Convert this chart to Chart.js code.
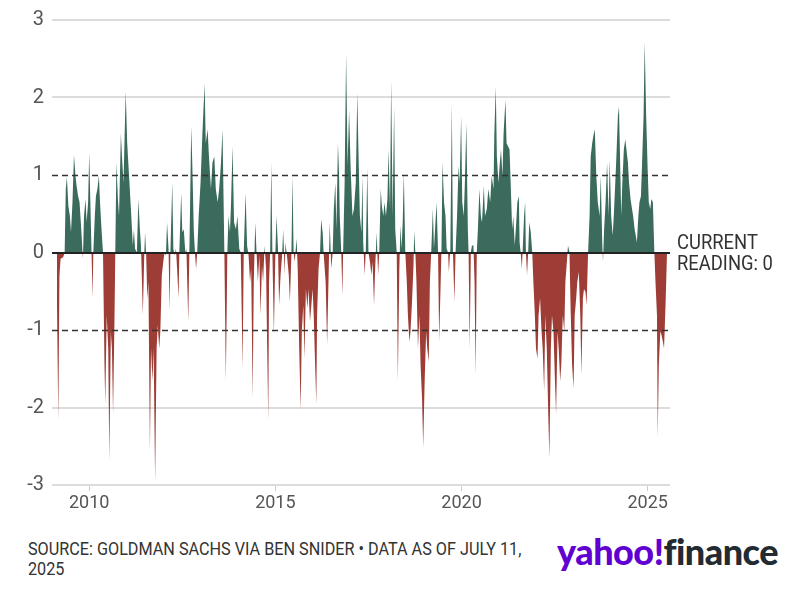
<!DOCTYPE html>
<html>
<head>
<meta charset="utf-8">
<script src="https://cdn.jsdelivr.net/npm/chart.js@4"></script>
<style>
  body { margin: 0; background: #fff; }
  #wrap { position: relative; width: 788px; height: 599px; overflow: hidden; font-family: Roboto, sans-serif; }
  #chartBox { position: absolute; left: 0; top: 0; width: 788px; height: 522px; }
  #current { position: absolute; left: 677px; top: 232px; font-size: 20px; line-height: 21px; color: #333; white-space: nowrap; transform: scaleX(0.92); transform-origin: left top; }
  #source { position: absolute; left: 28px; top: 539px; font-size: 18px; line-height: 20px; color: #333; white-space: nowrap; transform: scaleX(0.9); transform-origin: left top; }
  #logo { position: absolute; left: 557px; top: 533px; font-family: Lato, Roboto, sans-serif; font-weight: 900; font-size: 36px; line-height: 36px; letter-spacing: -0.5px; white-space: nowrap; }
  #logo .y { color: #6001d2; }
  #logo .f { color: #232a31; }
</style>
</head>
<body>
<div id="wrap">
  <div id="chartBox"><canvas id="sentimentChart"></canvas></div>
  <div id="current">CURRENT<br>READING: 0</div>
  <div id="source">SOURCE: GOLDMAN SACHS VIA BEN SNIDER • DATA AS OF JULY 11,<br>2025</div>
  <div id="logo"><span class="y">yahoo!</span><span class="f">finance</span></div>
</div>
<script>
// readings (decimal year) and indicator values
const years = [
  2009.13, 2009.17, 2009.20, 2009.23, 2009.30, 2009.34, 2009.37, 2009.40, 2009.44, 2009.48,
  2009.51, 2009.55, 2009.59, 2009.63, 2009.66, 2009.70, 2009.74, 2009.79, 2009.83, 2009.86,
  2009.90, 2009.93, 2009.97, 2010.00, 2010.03, 2010.06, 2010.09, 2010.11, 2010.15, 2010.18,
  2010.22, 2010.26, 2010.29, 2010.33, 2010.37, 2010.41, 2010.43, 2010.47, 2010.51, 2010.54,
  2010.58, 2010.61, 2010.64, 2010.68, 2010.70, 2010.73, 2010.77, 2010.80, 2010.85, 2010.88,
  2010.92, 2010.98, 2011.02,
  2011.08, 2011.13, 2011.17, 2011.20, 2011.23, 2011.28, 2011.32, 2011.36, 2011.39, 2011.44,
  2011.48, 2011.50, 2011.53, 2011.56, 2011.59, 2011.63, 2011.66, 2011.70, 2011.73, 2011.77,
  2011.81, 2011.84, 2011.88, 2011.91, 2011.95, 2011.99, 2012.02, 2012.06, 2012.09, 2012.13,
  2012.16, 2012.18, 2012.23, 2012.26, 2012.29, 2012.33, 2012.36, 2012.40, 2012.42, 2012.47,
  2012.50, 2012.54, 2012.58, 2012.61, 2012.66, 2012.69, 2012.74, 2012.77, 2012.81, 2012.85,
  2012.87, 2012.90, 2012.94, 2012.99, 2013.04, 2013.10,
  2013.13, 2013.18, 2013.22, 2013.27, 2013.31, 2013.36, 2013.40, 2013.45, 2013.49, 2013.54,
  2013.58, 2013.63, 2013.67, 2013.71, 2013.74, 2013.78, 2013.81, 2013.85, 2013.89, 2013.94,
  2013.98, 2014.03, 2014.07, 2014.12, 2014.15, 2014.20, 2014.24, 2014.28, 2014.32, 2014.35,
  2014.39, 2014.42, 2014.46, 2014.49, 2014.53, 2014.57, 2014.60, 2014.64, 2014.67, 2014.71,
  2014.75, 2014.78, 2014.81, 2014.83, 2014.86, 2014.89, 2014.92, 2014.96, 2015.00, 2015.03,
  2015.07, 2015.10, 2015.14, 2015.18, 2015.21, 2015.25,
  2015.27, 2015.32, 2015.36, 2015.39, 2015.43, 2015.46, 2015.49, 2015.52, 2015.57, 2015.60,
  2015.64, 2015.68, 2015.71, 2015.75, 2015.78, 2015.82, 2015.86, 2015.89, 2015.93, 2015.96,
  2016.00, 2016.03, 2016.07, 2016.10, 2016.12, 2016.16, 2016.20, 2016.23, 2016.27, 2016.30,
  2016.35, 2016.39, 2016.43, 2016.46, 2016.50, 2016.54, 2016.57, 2016.61, 2016.64, 2016.68,
  2016.71, 2016.73, 2016.77, 2016.80, 2016.82, 2016.86, 2016.90, 2016.94, 2016.98, 2017.02,
  2017.07, 2017.11, 2017.16, 2017.20, 2017.24, 2017.27, 2017.31, 2017.34,
  2017.36, 2017.40, 2017.43, 2017.47, 2017.50, 2017.54, 2017.58, 2017.61, 2017.65, 2017.68,
  2017.72, 2017.76, 2017.79, 2017.83, 2017.86, 2017.90, 2017.93, 2017.97, 2018.01, 2018.04,
  2018.08, 2018.11, 2018.15, 2018.19, 2018.22, 2018.26, 2018.29, 2018.33, 2018.36, 2018.39,
  2018.42, 2018.45, 2018.49, 2018.53, 2018.56, 2018.60, 2018.63, 2018.67, 2018.71, 2018.73,
  2018.76, 2018.79, 2018.83, 2018.87, 2018.90, 2018.94, 2018.97, 2019.01, 2019.05, 2019.08,
  2019.12, 2019.15, 2019.19, 2019.23, 2019.26, 2019.30, 2019.33, 2019.37, 2019.40, 2019.44,
  2019.46, 2019.49, 2019.53, 2019.57, 2019.60, 2019.64, 2019.66, 2019.70, 2019.74, 2019.77,
  2019.81, 2019.84, 2019.88, 2019.92, 2019.95, 2019.99, 2020.02, 2020.06, 2020.09, 2020.13,
  2020.17, 2020.19, 2020.22, 2020.25, 2020.28, 2020.32, 2020.35, 2020.38, 2020.41, 2020.44,
  2020.48, 2020.52, 2020.55, 2020.60, 2020.63, 2020.68, 2020.72, 2020.77, 2020.81, 2020.86,
  2020.88, 2020.92, 2020.95, 2020.99, 2021.03, 2021.06, 2021.10, 2021.13, 2021.18, 2021.21,
  2021.25, 2021.29, 2021.32, 2021.36, 2021.39, 2021.43, 2021.47, 2021.50, 2021.54,
  2021.56, 2021.59, 2021.62, 2021.64, 2021.68, 2021.71, 2021.73, 2021.76, 2021.79, 2021.82,
  2021.86, 2021.90, 2021.93, 2021.97, 2022.00, 2022.04, 2022.07, 2022.11, 2022.15, 2022.18,
  2022.22, 2022.25, 2022.29, 2022.33, 2022.36, 2022.40, 2022.43, 2022.47, 2022.51, 2022.54,
  2022.58, 2022.61, 2022.65, 2022.68, 2022.72, 2022.76, 2022.79, 2022.83, 2022.86, 2022.90,
  2022.93, 2022.97, 2023.01, 2023.04, 2023.08, 2023.11, 2023.15, 2023.19, 2023.22, 2023.26,
  2023.29, 2023.33, 2023.36, 2023.40, 2023.44, 2023.47, 2023.51, 2023.54, 2023.58,
  2023.62, 2023.66, 2023.71, 2023.74, 2023.78, 2023.80, 2023.83, 2023.87, 2023.91, 2023.95,
  2023.98, 2024.02, 2024.06, 2024.09, 2024.13, 2024.16, 2024.20, 2024.23, 2024.25, 2024.29,
  2024.32, 2024.36, 2024.40, 2024.43, 2024.47, 2024.50, 2024.54, 2024.58, 2024.61, 2024.65,
  2024.68, 2024.71, 2024.75, 2024.78, 2024.82, 2024.85, 2024.89, 2024.92, 2024.96, 2025.00,
  2025.03, 2025.07, 2025.10, 2025.14, 2025.18, 2025.21, 2025.25, 2025.27, 2025.30, 2025.34,
  2025.37, 2025.41, 2025.44, 2025.48, 2025.52
];
const values = [
  -0.5, -2.17, -0.3, -0.08, -0.06, 0, 0.82, 0.97, 0.6, 0.47,
  0.26, 0.65, 1.26, 0.99, 0.86, 0.73, 0.65, 0.26, -0.08, 0.47,
  0.69, 0.39, 0.65, 1.29, 0.65, 0.05, -0.59, 0, 0.47, 0.73,
  0.82, 0.99, 0.65, 0.3, 0, -1.45, -1.96, -0.81, -1.24, -2.69,
  -1.02, -1.24, -2.09, -0.81, 0, 1.16, 0.69, 0.47, 1.54, 1.24,
  0.9, 2.08, 1.41,
  0.9, 0.47, 0.09, 0.3, 0.05, 0, 0.69, 0.3, 0.09, -0.81,
  0, 0.26, -0.04, -0.6, -0.38, -2.56, -1.24, -1.66, -1.24, -2.97,
  -1.24, -0.94, -1.24, -1.02, -0.29, -0.12, 0, -0.04, 0.39, 0.05,
  -0.76, 0, 0.9, 0.05, -0.04, 0.05, -0.21, -0.59, 0, 0.77,
  0.26, 0.3, 0, 0.05, -0.89, 0, 1.63, 1.12, 0.26, -0.08,
  -0.21, 0, 0.47, 0.9, 1.54, 2.18,
  1.41, 1.59, 1.2, 0.82, 1.16, 1.24, 0.82, 0.65, 0.82, 1.16,
  1.59, 0, -1.66, 0, 0.47, 0.26, 0.65, 1.37, 0.39, 0.3,
  0.47, 0.05, 0, -1.49, 0, 0.77, 0.09, -0.04, -0.38, -0.21,
  -1.88, -0.38, 0.39, 0.05, -0.38, -0.04, -0.81, -0.17, -0.38, 0.09,
  -0.21, -1.24, -2.17, -0.38, 0, 1.16, 0, -1.06, 0, 0.47,
  0.05, -0.68, -0.29, -0.04, 0.3, -0.29,
  0.13, -0.08, -0.29, -0.64, -0.04, 0.99, 0, -0.12, 0.18, -0.21,
  -1.24, -2.04, -1.02, -0.68, -1.37, -0.47, -0.72, -0.47, -0.89, -0.72,
  -0.47, -0.81, -1.49, -1.96, -0.81, -0.21, 0, 0.43, 0.26, -0.04,
  -0.38, -1.19, -0.29, 0.39, -0.21, 0, 0.56, 0.9, 0.3, 1.41,
  1.03, 0.47, 0, -0.55, 0, 0.9, 2.57, 1.12, 1.84, 1.12,
  0.47, 0.56, 0.9, 2.06, 1.12, 0.47, 0.26, 0.99,
  0.13, -0.29, 0.05, 1.09, 0, -0.12, -0.29, -0.12, -0.68, -0.21,
  0.26, -0.29, 0, 0.82, 0.6, 0.47, 0.65, 0.47, 0.69, 1.33,
  0.56, 2.23, 0.47, 1.88, 0.3, 0, -1.66, -0.21, 0.35, 0.05,
  0.39, 1.03, 0, -0.38, -0.81, -1.15, -1.02, -0.64, -0.17, 0.28,
  0, -0.38, -1.24, -0.81, -1.45, -1.88, -2.52, -1.66, -1.02, -1.24,
  -1.41, -0.38, 0.05, 0.56, 0.05, 0.39, 0.65, 0, -1.15, -0.38,
  0, 1.16, 0.65, 0.47, 0.05, 0, -0.25, 0.05, 1.93, 0,
  -0.64, 0, 0.47, 1.12, 0.9, 1.76, 0.65, 0.47, 0.9, 1.67,
  0.3, 0, -1.24, 0, 0.09, 0.09, -0.38, -1.58, 0, 0.3,
  0.82, 0.47, 0.39, 0.86, 0.47, 0.56, 0.82, 0.65, 0.99, 0.82,
  1.5, 2.14, 1.24, 0.9, 1.16, 1.33, 0.99, 1.54, 1.97, 1.41,
  1.37, 1.33, 0.9, 0.3, 0.47, 0.09, 0.39, 0.65, 0.73,
  0.13, 0, -0.21, 0, 0.47, 0.65, 0, -0.29, 0, 0.39,
  0.26, 0, -0.38, -0.81, -1.24, -1.37, -0.81, -0.59, -1.02, -1.24,
  -1.79, -0.81, -1.24, -2.09, -2.65, -1.24, -0.81, -1.02, -1.66, -2.09,
  -1.02, -1.24, -1.66, -1.45, -0.81, -1.02, -0.38, -0.12, 0.09, 0,
  -0.72, -1.45, -1.75, -0.81, -0.59, -0.38, -0.25, -0.81, -1.58, -0.59,
  -0.47, -0.51, -0.68, 0, 0.47, 1.24, 1.41, 1.5, 1.59,
  0.99, 0.65, 0.47, 0.99, 0.13, -0.12, 0.3, 0.65, 1.16, 0.47,
  1.2, 0.47, 0.22, 0.47, 0.9, 1.24, 1.76, 1.88, 1.41, 0.47,
  0.9, 1.33, 1.46, 1.33, 1.16, 0.9, 0.69, 0.56, 0.47, 0.3,
  0.22, 0.13, 0.47, 0.65, 0.73, 1.16, 1.76, 2.72, 1.76, 1.07,
  0.65, 0.56, 0.69, 0.65, 0, -0.38, -0.81, -2.39, -1.45, -1.02,
  -1.06, -1.15, -1.24, -0.68, 0
];
const xTicks = [2010, 2015, 2020, 2025];
const yTicks = [3, 2, 1, 0, -1, -2, -3];
const dashedLevels = [1, -1];

const GREEN = '#3b6b5c';
const RED = '#9e3d36';
const LABEL_FONT = 'Roboto, sans-serif';

// zero line and the dashed +/-1 lines sit on top of the fill
const refLines = {
    id: 'refLines',
    afterDatasetsDraw(chart) {
        const { ctx, chartArea, scales } = chart;
        ctx.save();
        ctx.strokeStyle = '#333';
        ctx.lineWidth = 1.5;
        ctx.setLineDash([6, 4]);
        dashedLevels.forEach(v => {
            const y = Math.round(scales.y.getPixelForValue(v)) + 0.5;
            ctx.beginPath();
            ctx.moveTo(chartArea.left, y);
            ctx.lineTo(chartArea.right, y);
            ctx.stroke();
        });
        ctx.setLineDash([]);
        ctx.strokeStyle = '#222';
        ctx.lineWidth = 2;
        const y0 = Math.round(scales.y.getPixelForValue(0));
        ctx.beginPath();
        ctx.moveTo(chartArea.left, y0);
        ctx.lineTo(chartArea.right, y0);
        ctx.stroke();
        ctx.restore();
    }
};

const ctx = document.getElementById('sentimentChart');
new Chart(ctx, {
    type: 'line',
    data: {
        datasets: [{
            data: years.map((yr, i) => ({ x: yr, y: values[i] })),
            borderColor: 'transparent',
            borderWidth: 0,
            pointRadius: 0,
            tension: 0,
            fill: { target: { value: 0 }, above: GREEN, below: RED }
        }]
    },
    options: {
        responsive: true,
        maintainAspectRatio: false,
        animation: false,
        layout: { padding: { top: 18, right: 118, left: 0, bottom: 0 } },
        plugins: { legend: { display: false }, tooltip: { enabled: false } },
        scales: {
            x: {
                type: 'linear',
                min: 2009.0,
                max: 2025.6,
                afterBuildTicks: s => { s.ticks = xTicks.map(v => ({ value: v })); },
                afterFit: s => { s.height = 37; },
                border: { display: false },
                grid: { drawOnChartArea: false, drawTicks: true, tickLength: 6, color: '#ccc' },
                ticks: {
                    color: '#555', padding: 2, maxRotation: 0,
                    font: { family: LABEL_FONT, size: 18 },
                    callback: v => String(v)
                }
            },
            y: {
                min: -3,
                max: 3,
                afterBuildTicks: s => { s.ticks = yTicks.map(v => ({ value: v })); },
                afterFit: s => { s.width = 52; },
                border: { display: false },
                grid: {
                    drawTicks: false,
                    lineWidth: 2,
                    color: c => ([0, 1, -1].includes(c.tick.value) ? 'transparent' : '#dcdcdc')
                },
                ticks: {
                    color: '#555', padding: 8,
                    font: { family: LABEL_FONT, size: 20 },
                    callback: v => String(v)
                }
            }
        }
    },
    plugins: [refLines]
});
</script>
</body>
</html>
